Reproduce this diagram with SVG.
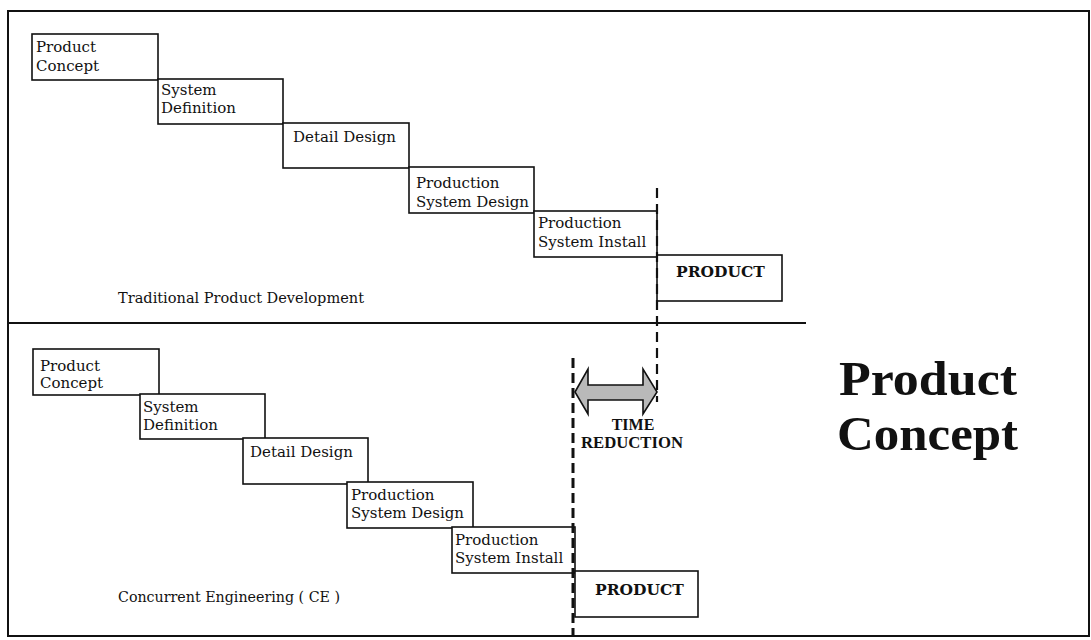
<svg xmlns="http://www.w3.org/2000/svg" width="1091" height="640" viewBox="0 0 1091 640">
<style>
.box{fill:#fff;stroke:#111;stroke-width:1.6}
.t{font-family:"DejaVu Serif","Liberation Serif",serif;font-size:15px;fill:#111}
.pb{font-family:"DejaVu Serif","Liberation Serif",serif;font-size:15.5px;font-weight:bold;fill:#111}
.cap{font-family:"DejaVu Serif","Liberation Serif",serif;font-size:14.5px;fill:#111}
.tr{font-family:"Liberation Serif",serif;font-size:16px;font-weight:bold;fill:#111}
.big{font-family:"Liberation Serif",serif;font-size:48px;font-weight:bold;fill:#111}
</style>
<rect x="0" y="0" width="1091" height="640" fill="#fff"/>
<g id="frame" fill="none" stroke="#111">
<rect x="8" y="11" width="1081" height="625" stroke-width="2"/>
<line x1="8" y1="323" x2="806" y2="323" stroke-width="1.8"/>
</g>
<g id="top-product-concept"><rect class="box" x="32" y="34" width="126" height="46"/><text class="t" x="36" y="52">Product</text><text class="t" x="36" y="71">Concept</text></g>
<g id="top-system-definition"><rect class="box" x="158" y="79" width="125" height="45"/><text class="t" x="161" y="95">System</text><text class="t" x="161" y="113">Definition</text></g>
<g id="top-detail-design"><rect class="box" x="283" y="123" width="126" height="45"/><text class="t" x="293" y="142">Detail Design</text></g>
<g id="top-production-system-design"><rect class="box" x="409" y="167" width="125" height="46"/><text class="t" x="416" y="188">Production</text><text class="t" x="416" y="207">System Design</text></g>
<g id="top-production-system-install"><rect class="box" x="534" y="211" width="123" height="46"/><text class="t" x="538" y="228">Production</text><text class="t" x="538" y="247">System Install</text></g>
<g id="top-product"><rect class="box" x="657" y="255" width="125" height="46"/><text class="pb" x="676" y="277">PRODUCT</text></g>
<text id="label-traditional" class="cap" x="118" y="303" textLength="246" lengthAdjust="spacingAndGlyphs">Traditional Product Development</text>
<g id="ce-product-concept"><rect class="box" x="33" y="349" width="126" height="46"/><text class="t" x="40" y="371">Product</text><text class="t" x="40" y="388">Concept</text></g>
<g id="ce-system-definition"><rect class="box" x="140" y="394" width="125" height="45"/><text class="t" x="143" y="412">System</text><text class="t" x="143" y="430">Definition</text></g>
<g id="ce-detail-design"><rect class="box" x="243" y="438" width="125" height="46"/><text class="t" x="250" y="457">Detail Design</text></g>
<g id="ce-production-system-design"><rect class="box" x="347" y="482" width="126" height="46"/><text class="t" x="351" y="500">Production</text><text class="t" x="351" y="518">System Design</text></g>
<g id="ce-production-system-install"><rect class="box" x="452" y="527" width="123" height="46"/><text class="t" x="455" y="545">Production</text><text class="t" x="455" y="563">System Install</text></g>
<g id="ce-product"><rect class="box" x="575" y="571" width="123" height="46"/><text class="pb" x="595" y="595">PRODUCT</text></g>
<text id="label-ce" class="cap" x="118" y="602" textLength="222" lengthAdjust="spacingAndGlyphs">Concurrent Engineering ( CE )</text>
<g id="connectors" fill="none" stroke="#111">
<line x1="657" y1="188" x2="657" y2="402" stroke-width="2.2" stroke-dasharray="10,6"/>
<line x1="573" y1="358" x2="573" y2="637" stroke-width="3" stroke-dasharray="10,5"/>
</g>
<g id="time-reduction">
<path d="M575,392 L588,369 L588,385 L643,385 L643,369 L657,392 L643,414 L643,400 L588,400 L588,414 Z" fill="#b9b9b9" stroke="#111" stroke-width="1.6"/>
<text class="tr" x="633" y="430" text-anchor="middle">TIME</text>
<text class="tr" x="581" y="448" textLength="102" lengthAdjust="spacingAndGlyphs">REDUCTION</text>
</g>
<g id="title">
<text class="big" x="839" y="395" textLength="178" lengthAdjust="spacingAndGlyphs">Product</text>
<text class="big" x="837" y="450" textLength="181" lengthAdjust="spacingAndGlyphs">Concept</text>
</g>
</svg>
